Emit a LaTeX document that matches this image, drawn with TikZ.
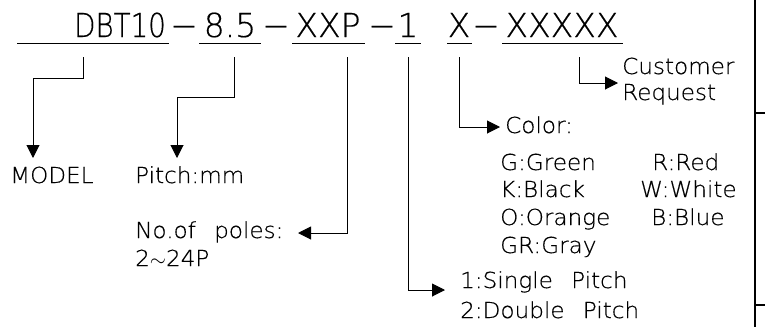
\documentclass[tikz,border=0pt]{standalone}
\usepackage{fontspec}
\setmainfont{DejaVu Sans ExtraLight}[FakeBold=0.4]
\newfontfamily\cadsmall{DejaVu Sans ExtraLight}[FakeStretch=1.05,WordSpace=2.5,FakeBold=0.4]
\usetikzlibrary{arrows.meta}
\begin{document}
\begin{tikzpicture}[x=1pt,y=-1pt,
  big/.style={font=\fontsize{33}{36}\selectfont, inner sep=0pt, anchor=base},
  small/.style={font=\cadsmall\fontsize{22}{24}\selectfont, inner sep=0pt, anchor=base west},
  uline/.style={line width=1pt},
  conn/.style={line width=1pt},
  arr/.style={conn, -{Triangle[length=13pt,width=13pt]}},
  frame/.style={line width=1.6pt}]
\useasboundingbox (0,0) rectangle (765,327);
% main code line
\node[big] (dbt) at (120,37) {\scalebox{0.84}[1]{DBT10}};
\node[big] (d1) at (184,37) {−};
\node[big] (pitch) at (230,37) {8.5};
\node[big] (d2) at (276,37) {−};
\node[big] (xxp) at (328,37) {XXP};
\node[big] (d3) at (382,37) {−};
\node[big] (one) at (408,37) {1};
\node[big] (x) at (459,37) {X};
\node[big] (d4) at (486,37) {−};
\node[big] (xxxxx) at (562,37) {XXXXX};
% underlines
\draw[uline] (17,43) -- (169,43);
\draw[uline] (199,43) -- (261,43);
\draw[uline] (292,43) -- (365,43);
\draw[uline] (395,43) -- (421,43);
\draw[uline] (447,43) -- (472,43);
\draw[uline] (502,43) -- (623,43);
% labels
\node[small] (model) at (10,183) {MODEL};
\node[small] (pmm) at (135,183) {Pitch:mm};
\node[small] (poles) at (135,238) {No.of poles:};
\node[small] (poles2) at (135,266) {2$\sim$24P};
\node[small] (single) at (460,288) {1:Single Pitch};
\node[small] (double) at (460,318) {2:Double Pitch};
\node[small] (color) at (505,133) {Color:};
\node[small] (cg) at (500,170) {G:Green};
\node[small] (ck) at (500,197) {K:Black};
\node[small] (co) at (500,225) {O:Orange};
\node[small] (cgr) at (500,253) {GR:Gray};
\node[small] (cr) at (652,170) {R:Red};
\node[small] (cw) at (640,197) {W:White};
\node[small] (cb) at (651,225) {B:Blue};
\node[small] (cust) at (622,74) {Customer};
\node[small] (req) at (622,100) {Request};
% connector points
\coordinate (s1) at (83,57);
\coordinate (t1) at (33,158);
\coordinate (s2) at (234,57);
\coordinate (t2) at (177,158);
\coordinate (s3) at (347,57);
\coordinate (t3) at (298,233);
\coordinate (s4) at (408,57);
\coordinate (t4) at (445,290);
\coordinate (s5) at (459,57);
\coordinate (t5) at (500,127);
\coordinate (s6) at (579,57);
\coordinate (t6) at (618,83);
\draw[arr] (s1) -- (83,78) -| (t1);
\draw[arr] (s2) -- (234,97) -| (t2);
\draw[arr] (s3) |- (t3);
\draw[arr] (s4) |- (t4);
\draw[arr] (s5) |- (t5);
\draw[arr] (s6) |- (t6);
% right frame
\draw[frame] (755,0) -- (755,327);
\draw[frame] (755,113) -- (765,113);
\draw[frame] (755,305) -- (765,305);
\end{tikzpicture}
\end{document}
